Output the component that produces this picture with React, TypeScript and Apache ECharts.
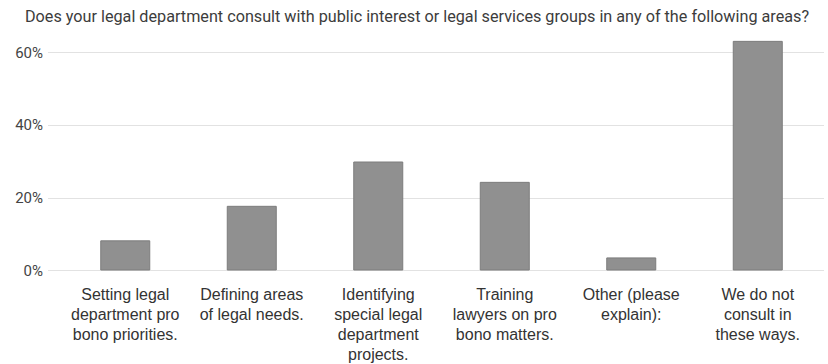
import React, { useEffect, useRef } from "react";
import * as echarts from "echarts";

const titleText =
  "Does your legal department consult with public interest or legal services groups in any of the following areas?";
const categories = [
  "Setting legal\ndepartment pro\nbono priorities.",
  "Defining areas\nof legal needs.",
  "Identifying\nspecial legal\ndepartment\nprojects.",
  "Training\nlawyers on pro\nbono matters.",
  "Other (please\nexplain):",
  "We do not\nconsult in\nthese ways.",
];
const values = [8.3, 17.8, 30.0, 24.4, 3.6, 63.2];
const yTicks = [0, 20, 40, 60];

export default function App() {
  const ref = useRef<HTMLDivElement>(null);
  useEffect(() => {
    document.body.style.margin = "0";
    const chart = echarts.init(ref.current!, null, { renderer: "svg" });
    const gridBottom = 93.5;
    const gridTop0 = 52.5;
    const plotH = 364 - gridBottom - gridTop0;
    const yMax1 = 65;
    const top1 = 364 - gridBottom - (plotH * yMax1) / yTicks[yTicks.length - 1];
    chart.setOption({
      animation: false,
      title: {
        text: titleText,
        left: 20,
        top: 3,
        textStyle: {
          fontFamily: "Roboto",
          fontSize: 16.2,
          fontWeight: "normal",
          color: "#3c3c3c",
        },
      },
      grid: [
        { left: 48, right: 4, top: gridTop0, bottom: gridBottom, containLabel: false, outerBoundsMode: "none" },
        { left: 62, right: 7, top: top1, bottom: gridBottom, containLabel: false, outerBoundsMode: "none" },
      ],
      xAxis: [
        { gridIndex: 0, type: "value", min: 0, max: 1, show: false },
        {
          gridIndex: 1,
          type: "category",
          data: categories,
          axisLine: { show: false },
          axisTick: { show: false },
          axisLabel: {
            interval: 0,
            margin: 13.5,
            fontFamily: "Liberation Sans, Arial",
            fontSize: 16,
            lineHeight: 20,
            color: "#333",
            align: "center",
            verticalAlign: "top",
          },
        },
      ],
      yAxis: [
        {
          gridIndex: 0,
          type: "value",
          min: yTicks[0],
          max: yTicks[yTicks.length - 1],
          interval: 20,
          axisLine: { show: false },
          axisTick: { show: false },
          axisLabel: {
            formatter: "{value}%",
            margin: 5,
            fontFamily: "Roboto",
            fontSize: 15,
            color: "#444",
          },
          splitLine: { lineStyle: { color: "#e2e2e2", width: 1 } },
        },
        { gridIndex: 1, type: "value", min: 0, max: yMax1, show: false },
      ],
      series: [
        {
          type: "bar",
          xAxisIndex: 1,
          yAxisIndex: 1,
          data: values,
          barWidth: 50,
          itemStyle: { color: "#909090", borderColor: "#7c7c7c", borderWidth: 1 },
        },
      ],
    });
    return () => chart.dispose();
  }, []);
  return <div ref={ref} style={{ width: 828, height: 364 }} />;
}
